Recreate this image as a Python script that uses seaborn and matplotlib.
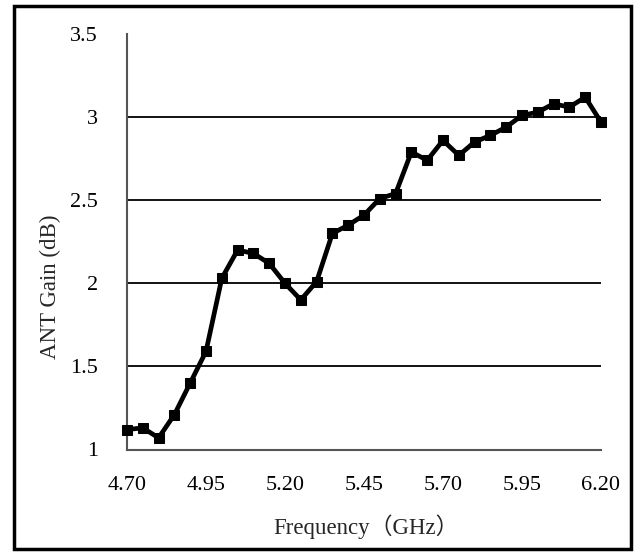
import matplotlib
matplotlib.use("Agg")
import matplotlib.pyplot as plt
import seaborn as sns
import pandas as pd
from matplotlib.patches import Rectangle

freq = [4.70, 4.75, 4.80, 4.85, 4.90, 4.95, 5.00, 5.05, 5.10, 5.15, 5.20,
        5.25, 5.30, 5.35, 5.40, 5.45, 5.50, 5.55, 5.60, 5.65, 5.70,
        5.75, 5.80, 5.85, 5.90, 5.95, 6.00, 6.05, 6.10, 6.15, 6.20]
gain = [1.12, 1.13, 1.07, 1.21, 1.40, 1.59, 2.03, 2.20, 2.18, 2.12, 2.00,
        1.90, 2.01, 2.30, 2.35, 2.41, 2.51, 2.54, 2.79, 2.74, 2.86,
        2.77, 2.85, 2.89, 2.94, 3.01, 3.03, 3.08, 3.06, 3.12, 2.97]
x_ticks = [4.70, 4.95, 5.20, 5.45, 5.70, 5.95, 6.20]
x_labels = ["4.70", "4.95", "5.20", "5.45", "5.70", "5.95", "6.20"]
y_ticks = [1, 1.5, 2, 2.5, 3, 3.5]
y_labels = ["1", "1.5", "2", "2.5", "3", "3.5"]
grid_levels = [1.5, 2, 2.5, 3]

sns.set_theme(style="white")
plt.rcParams["font.family"] = ["Liberation Serif", "Noto Sans CJK SC"]

df = pd.DataFrame({"Frequency": freq, "Gain": gain})

W, H = 637, 555
fig = plt.figure(figsize=(W / 100, H / 100), dpi=100)
ax = fig.add_axes([127 / W, 1 - 449.5 / H, (601 - 127) / W, (449.5 - 34) / H])

for g in grid_levels:
    ax.axhline(g, color="black", lw=1.3, zorder=1)

sns.lineplot(data=df, x="Frequency", y="Gain", ax=ax, color="black",
             lw=3.4, marker="s", markersize=7.5, markeredgecolor="black",
             zorder=3, clip_on=False)

ax.set_xlim(4.70, 6.20)
ax.set_ylim(1, 3.5)
ax.set_xticks(x_ticks)
ax.set_xticklabels(x_labels)
ax.set_yticks(y_ticks)
ax.set_yticklabels(y_labels)
ax.tick_params(axis="both", direction="in", length=5, width=1.2,
               colors="#555555", labelcolor="black", labelsize=16)
ax.tick_params(axis="x", pad=19)
ax.tick_params(axis="y", pad=21)
for s in ["top", "right"]:
    ax.spines[s].set_visible(False)
for s in ["left", "bottom"]:
    ax.spines[s].set_color("#555555")
    ax.spines[s].set_linewidth(1.5)
ax.set_facecolor("white")

ax.set_xlabel("Frequency（GHz）", fontsize=16.5)
ax.set_ylabel("ANT Gain (dB)", fontsize=16.5)
ax.xaxis.set_label_coords((366 - 127) / 474, -(527 - 449.5) / 415.5)
ax.yaxis.set_label_coords((50 - 127) / 474, (449.5 - 287) / 415.5)
ax.xaxis.label.set_va("center")
ax.yaxis.label.set_va("center")

fig.patches.append(Rectangle((13.5 / W, 1 - 549 / H), (631 - 13.5) / W, (549 - 5.5) / H,
                             transform=fig.transFigure, fill=False,
                             edgecolor="black", lw=2.5))

fig.savefig("out.png", dpi=100, facecolor="white")
